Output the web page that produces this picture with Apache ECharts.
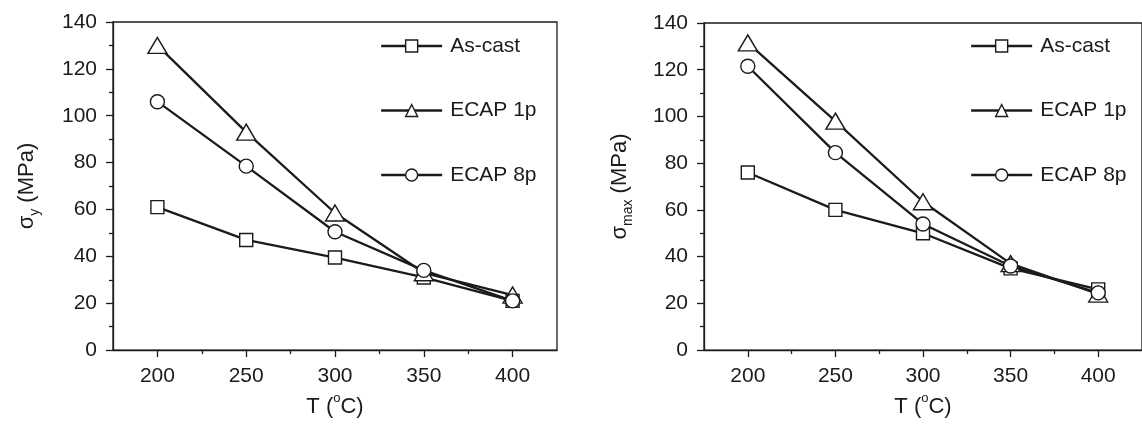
<!DOCTYPE html>
<html>
<head>
<meta charset="utf-8">
<script src="https://cdn.jsdelivr.net/npm/echarts@6/dist/echarts.min.js"></script>
<style>
  html, body { margin: 0; padding: 0; background: #fff; }
  #chart { width: 1142px; height: 427px; }
</style>
</head>
<body>
<div id="chart"></div>
<script>
// Test temperatures (°C)
const temps = [200, 250, 300, 350, 400];

// Yield stress σy (MPa)
const yieldAsCast = [61, 47, 39.5, 31, 21];
const yieldEcap1p = [130, 93, 58.5, 33, 23.5];
const yieldEcap8p = [106, 78.5, 50.5, 34, 21];

// Maximum stress σmax (MPa)
const maxAsCast = [76, 60, 50, 35, 26];
const maxEcap1p = [131.5, 98, 63.5, 37, 24];
const maxEcap8p = [121.5, 84.5, 54, 36, 24.5];

const seriesNames = ['As-cast', 'ECAP 1p', 'ECAP 8p'];
const majorTicksX = [200, 250, 300, 350, 400];
const minorTicksX = [225, 275, 325, 375];

const INK = '#1b1b1b';
const FONT = '"Liberation Sans", Arial, sans-serif';

const symbols = [
  { symbol: 'rect', size: 13 },
  { symbol: 'triangle', size: [19, 16] },
  { symbol: 'circle', size: 14 }
];

function pairs(values) {
  return temps.map((t, i) => [t, values[i]]);
}

function makeSeries(gridIdx, valueSets) {
  return valueSets.map((vals, k) => ({
    name: seriesNames[k],
    type: 'line',
    xAxisIndex: gridIdx * 2,
    yAxisIndex: gridIdx,
    data: pairs(vals),
    symbol: symbols[k].symbol,
    symbolSize: symbols[k].size,
    showSymbol: true,
    lineStyle: { color: INK, width: 2.3 },
    itemStyle: { color: '#fff', borderColor: INK, borderWidth: 1.4 },
    emphasis: { disabled: true },
    animation: false
  }));
}

const grids = [
  { left: 113, top: 22, width: 444, height: 329 },
  { left: 704, top: 23, width: 444, height: 328.5 }
];

function xAxes(gridIdx) {
  return [
    {
      type: 'value', gridIndex: gridIdx, min: 175, max: 425,
      name: 'T ({sup|o}C)', nameLocation: 'middle', nameGap: 54,
      nameTextStyle: {
        fontFamily: FONT, fontSize: 22, color: INK, lineHeight: 30, verticalAlign: 'middle',
        rich: {
          sup: { fontFamily: FONT, fontSize: 13, lineHeight: 13, verticalAlign: 'top', color: INK }
        }
      },
      axisLine: { show: true, lineStyle: { color: INK, width: 1.3 } },
      axisTick: { show: true, inside: false, length: 7, customValues: majorTicksX, lineStyle: { color: INK, width: 1.3 } },
      axisLabel: { show: true, margin: 16, customValues: majorTicksX, fontFamily: FONT, fontSize: 21, color: INK },
      splitLine: { show: false }
    },
    {
      type: 'value', gridIndex: gridIdx, min: 175, max: 425, position: 'bottom',
      axisLine: { show: false },
      axisTick: { show: true, inside: false, length: 4, customValues: minorTicksX, lineStyle: { color: INK, width: 1.3 } },
      axisLabel: { show: false },
      splitLine: { show: false }
    }
  ];
}

function yAxis(gridIdx, name, nameGap) {
  return {
    type: 'value', gridIndex: gridIdx, min: 0, max: 140, interval: 20,
    name: name, nameLocation: 'middle', nameGap: nameGap, nameRotate: 90,
    nameTextStyle: {
      fontFamily: FONT, fontSize: 22, color: INK, lineHeight: 30, verticalAlign: 'middle',
      rich: {
        s: { fontFamily: FONT, fontSize: 22, color: INK, lineHeight: 30, verticalAlign: 'middle' },
        sub: { fontFamily: FONT, fontSize: 14, color: INK, lineHeight: 14, verticalAlign: 'bottom' }
      }
    },
    axisLine: { show: true, lineStyle: { color: INK, width: 1.3 } },
    axisTick: { show: true, inside: false, length: 7, lineStyle: { color: INK, width: 1.3 } },
    minorTick: { show: true, splitNumber: 2, length: 4, lineStyle: { color: INK, width: 1.3 } },
    axisLabel: { margin: 16, fontFamily: FONT, fontSize: 21, color: INK },
    splitLine: { show: false },
    minorSplitLine: { show: false }
  };
}

function legend(left) {
  return {
    orient: 'vertical', left: left, top: 29,
    data: seriesNames,
    itemWidth: 61, itemHeight: 15, itemGap: 40.5,
    selectedMode: false,
    textStyle: { fontFamily: FONT, fontSize: 21, color: INK, lineHeight: 24, padding: [0, 0, 0, 3] },
    itemStyle: { borderWidth: 1.4, borderColor: INK, color: '#fff' },
    lineStyle: { color: INK, width: 2.3 }
  };
}

const chart = echarts.init(document.getElementById('chart'), null, { renderer: 'canvas' });
chart.setOption({
  backgroundColor: '#fff',
  animation: false,
  grid: grids.map(g => Object.assign({ show: true, borderColor: INK, borderWidth: 1.3, backgroundColor: 'transparent' }, g)),
  xAxis: [...xAxes(0), ...xAxes(1)],
  yAxis: [
    yAxis(0, '{s|σ}{sub|y}{s| (MPa)}', 86),
    yAxis(1, '{s|σ}{sub|max}{s| (MPa)}', 84)
  ],
  legend: [legend(375), legend(965)],
  series: [
    ...makeSeries(0, [yieldAsCast, yieldEcap1p, yieldEcap8p]),
    ...makeSeries(1, [maxAsCast, maxEcap1p, maxEcap8p])
  ]
});
</script>
</body>
</html>
